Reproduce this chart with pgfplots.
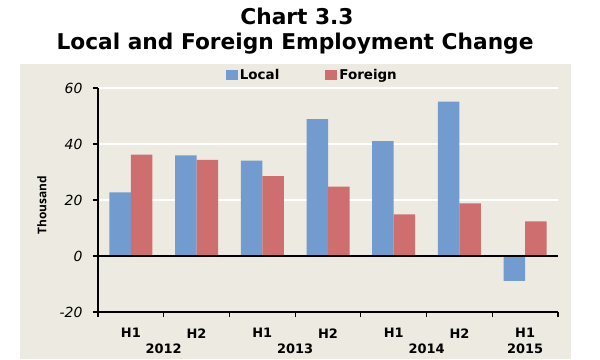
\documentclass[border=0pt]{standalone}
\usepackage{pgfplots}
\pgfplotsset{compat=1.18}
\usepackage{fontspec}
\setmainfont{Open Sans}
\newfontfamily\dejavu{DejaVu Sans}
\definecolor{bgbeige}{HTML}{ECEAE1}
\definecolor{localblue}{HTML}{729CCF}
\definecolor{foreignred}{HTML}{CF6E6E}
\begin{document}
\begin{tikzpicture}
\useasboundingbox (0,0) rectangle (600bp,360bp);
\fill[white] (0,0) rectangle (600bp,360bp);
\fill[bgbeige] (20bp,1bp) rectangle (571bp,296bp);
\node[font=\dejavu\bfseries\fontsize{21.8}{24}\selectfont] at (297bp,344bp) {Chart 3.3};
\node[font=\dejavu\bfseries\fontsize{21.8}{24}\selectfont] at (295bp,316bp) {Local and Foreign Employment Change};
\begin{axis}[
  at={(98bp,48bp)}, anchor=south west,
  scale only axis,
  width=460bp, height=224bp,
  ybar=0pt, bar width=21.5bp,
  xmin=-0.5, xmax=6.5, ymin=-20, ymax=60,
  axis x line*=bottom, axis y line*=left,
  axis line style={-, line width=1.6bp, black},
  xtick={0,...,6},
  xticklabels={H1,H2,H1,H2,H1,H2,H1},
  major x tick style={draw=none},
  minor xtick={-0.5,0.5,...,6.5},
  minor x tick style={line width=1.2bp, black},
  minor tick length=5bp,
  tick align=outside,
  xticklabel style={font=\dejavu\bfseries\fontsize{13}{15}\selectfont, yshift=-8bp},
  extra x ticks={0.5,2.5,4.5,6},
  extra x tick labels={2012,2013,2014,2015},
  extra x tick style={major x tick style={draw=none}, xticklabel style={yshift=-15.2bp}},
  ytick={-20,0,20,40,60},
  yticklabels={-20,0,20,40,60},
  major tick length=5bp,
  y tick style={line width=1.2bp, black},
  yticklabel style={font=\dejavu\itshape\fontsize{14}{16}\selectfont, xshift=-7bp},
  ymajorgrids,
  major grid style={white, line width=1.2bp},
  ylabel={Thousand},
  every axis y label/.style={at={(rel axis cs:0,0.478)}, xshift=-56bp, rotate=90, anchor=center, font=\bfseries\fontsize{12}{14}\selectfont},
  legend columns=2,
  legend style={draw=none, fill=none, at={(0.466,1)}, anchor=center, yshift=13bp,
    font=\dejavu\bfseries\fontsize{13.5}{16}\selectfont,
    /tikz/every odd column/.append style={column sep=0bp},
    /tikz/every even column/.append style={column sep=44bp}},
  legend image code/.code={\fill[#1] (0bp,-5bp) rectangle (12bp,5bp);},
]
\addplot[fill=localblue, draw=none] coordinates {(0,22.7) (1,35.9) (2,34.1) (3,48.9) (4,41.0) (5,55.1) (6,-8.9)};
\addplot[fill=foreignred, draw=none] coordinates {(0,36.2) (1,34.3) (2,28.5) (3,24.8) (4,14.9) (5,18.8) (6,12.4)};
\legend{Local,Foreign}
\draw[black, line width=1.5bp] (axis cs:-0.5,0) -- (axis cs:6.5,0);
\end{axis}
\end{tikzpicture}
\end{document}
